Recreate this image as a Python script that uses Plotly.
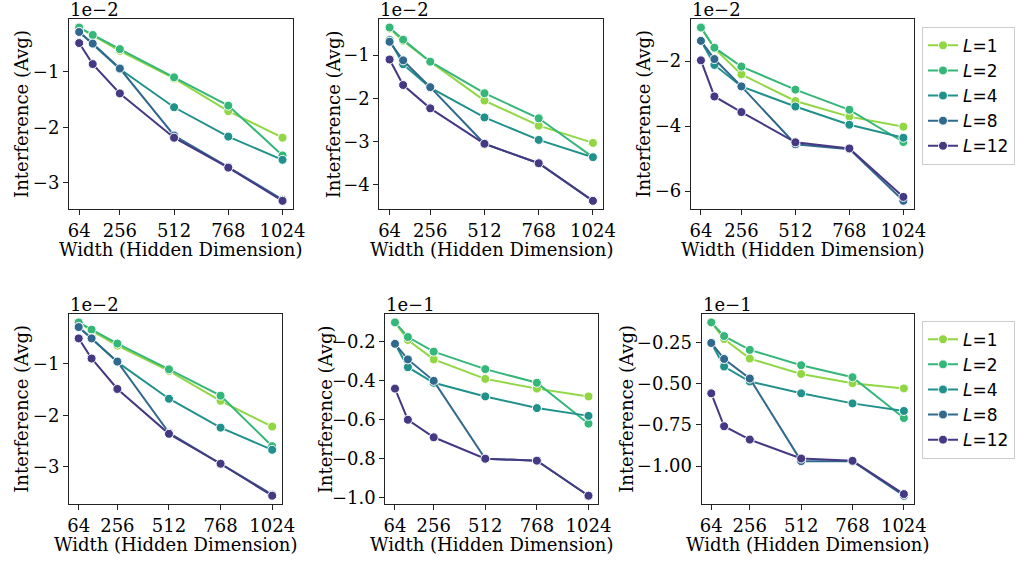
import plotly.graph_objects as go

W, H = 1028, 561

widths = [64, 128, 256, 512, 768, 1024]
layers = ["1", "2", "4", "8", "12"]
colors = ["#90d743", "#35b779", "#21918c", "#31688e", "#443983"]

x_tickvals = [64, 256, 512, 768, 1024]
x_ticktext = ["64", "256", "512", "768", "1024"]

# Values as displayed (in units of the panel's offset factor)
p1 = {
    "1": [-0.20, -0.34, -0.62, -1.12, -1.71, -2.19],
    "2": [-0.20, -0.335, -0.59, -1.10, -1.61, -2.51],
    "4": [-0.28, -0.50, -0.95, -1.64, -2.17, -2.59],
    "8": [-0.28, -0.49, -0.94, -2.15, -2.72, -3.31],
    "12": [-0.48, -0.86, -1.39, -2.19, -2.73, -3.33],
}
p2 = {
    "1": [-0.385, -0.67, -1.15, -2.05, -2.63, -3.03],
    "2": [-0.36, -0.64, -1.15, -1.88, -2.46, -3.36],
    "4": [-0.65, -1.21, -1.75, -2.44, -2.96, -3.36],
    "8": [-0.69, -1.12, -1.74, -3.05, -3.50, -4.37],
    "12": [-1.10, -1.69, -2.23, -3.05, -3.50, -4.37],
}
p3 = {
    "1": [-0.97, -1.61, -2.41, -3.23, -3.71, -4.02],
    "2": [-0.97, -1.59, -2.17, -2.88, -3.50, -4.49],
    "4": [-1.38, -2.12, -2.78, -3.40, -3.96, -4.36],
    "8": [-1.38, -1.94, -2.78, -4.56, -4.71, -6.30],
    "12": [-1.98, -3.09, -3.57, -4.50, -4.69, -6.18],
}
p4 = {
    "1": [-0.20, -0.36, -0.65, -1.14, -1.72, -2.22],
    "2": [-0.20, -0.34, -0.61, -1.11, -1.62, -2.60],
    "4": [-0.29, -0.51, -0.97, -1.68, -2.24, -2.67],
    "8": [-0.29, -0.51, -0.96, -2.34, -2.94, -3.54],
    "12": [-0.51, -0.90, -1.49, -2.36, -2.94, -3.56],
}
p5 = {
    "1": [-0.10, -0.19, -0.29, -0.39, -0.44, -0.48],
    "2": [-0.10, -0.175, -0.25, -0.34, -0.41, -0.62],
    "4": [-0.21, -0.33, -0.41, -0.48, -0.54, -0.58],
    "8": [-0.21, -0.29, -0.40, -0.80, -0.81, -0.99],
    "12": [-0.44, -0.60, -0.69, -0.80, -0.81, -0.99],
}
p6 = {
    "1": [-0.127, -0.228, -0.347, -0.44, -0.496, -0.528],
    "2": [-0.127, -0.21, -0.294, -0.387, -0.46, -0.708],
    "4": [-0.252, -0.395, -0.486, -0.558, -0.619, -0.665],
    "8": [-0.252, -0.349, -0.468, -0.97, -0.97, -1.18],
    "12": [-0.558, -0.758, -0.839, -0.954, -0.968, -1.17],
}

y_ticks = [
    ([-1, -2, -3], ["−1", "−2", "−3"]),
    ([-1, -2, -3, -4], ["−1", "−2", "−3", "−4"]),
    ([-2, -4, -6], ["−2", "−4", "−6"]),
    ([-1, -2, -3], ["−1", "−2", "−3"]),
    ([-0.2, -0.4, -0.6, -0.8, -1.0], ["−0.2", "−0.4", "−0.6", "−0.8", "−1.0"]),
    ([-0.25, -0.5, -0.75, -1.0], ["−0.25", "−0.50", "−0.75", "−1.00"]),
]
offsets = ["1e−2", "1e−2", "1e−2", "1e−2", "1e−1", "1e−1"]
panels = [p1, p2, p3, p4, p5, p6]

# Pixel boxes of axes (left, right, top, bottom)
boxes = [
    (68, 295, 19, 211),
    (383, 610, 19, 211),
    (699, 925, 19, 211),
    (68, 284, 316, 508),
    (389, 605, 316, 508),
    (710, 925, 316, 508),
]
ytitle_x = [19, 336, 651, 19, 328, 633]

SERIF = "DejaVu Serif"
FS = 18
fig = go.Figure()
layout = dict(
    width=W, height=H, margin=dict(l=0, r=0, t=0, b=0),
    paper_bgcolor="white", plot_bgcolor="white",
    font=dict(family=SERIF, size=FS, color="black"),
    annotations=[],
)

for i, (pdata, box) in enumerate(zip(panels, boxes)):
    n = i + 1
    xa = "x" if n == 1 else f"x{n}"
    ya = "y" if n == 1 else f"y{n}"
    legend_name = "legend" if i < 3 else "legend2"
    show = i in (2, 5)
    allv = [v for k in layers for v in pdata[k]]
    vmin, vmax = min(allv), max(allv)
    pad = 0.05 * (vmax - vmin)
    for L, c in zip(layers, colors):
        fig.add_trace(go.Scatter(
            x=widths, y=pdata[L], mode="lines+markers",
            xaxis=xa, yaxis=ya,
            line=dict(color=c, width=2),
            marker=dict(color=c, size=9, line=dict(color="white", width=1)),
            name=f"<i>L</i>={L}", showlegend=show, legend=legend_name,
        ))
    l, r, t, b = box
    xkey = "xaxis" if n == 1 else f"xaxis{n}"
    ykey = "yaxis" if n == 1 else f"yaxis{n}"
    axcommon = dict(showgrid=False, zeroline=False, showline=True, mirror=True,
                    linecolor="#222", linewidth=1, ticks="outside", ticklen=5,
                    tickcolor="#222", tickfont=dict(family=SERIF, size=FS))
    layout[xkey] = dict(domain=[l / W, r / W], anchor=ya, range=[16, 1072],
                        tickmode="array", tickvals=x_tickvals, ticktext=x_ticktext,
                        **axcommon)
    tv, tt = y_ticks[i]
    layout[ykey] = dict(domain=[1 - b / H, 1 - t / H], anchor=xa,
                        range=[vmin - pad, vmax + pad],
                        tickmode="array", tickvals=tv, ticktext=tt, **axcommon)
    # x title
    layout["annotations"].append(dict(
        text="Width (Hidden Dimension)", xref="paper", yref="paper",
        x=(l + r) / 2 / W, y=1 - (b + 40) / H, xanchor="center", yanchor="middle",
        showarrow=False, font=dict(family=SERIF, size=FS)))
    # y title
    layout["annotations"].append(dict(
        text="Interference (Avg)", xref="paper", yref="paper",
        x=ytitle_x[i] / W, y=1 - (t + b) / 2 / H, xanchor="center", yanchor="middle",
        textangle=-90, showarrow=False, font=dict(family=SERIF, size=FS)))
    # offset text
    layout["annotations"].append(dict(
        text=offsets[i], xref="paper", yref="paper",
        x=(l - 1) / W, y=1 - (t - 9) / H, xanchor="left", yanchor="middle",
        showarrow=False, font=dict(family=SERIF, size=FS)))

legcommon = dict(xanchor="right", yanchor="top", bordercolor="#cccccc", borderwidth=1,
                 bgcolor="white", font=dict(family="DejaVu Sans", size=17),
                 itemwidth=30, tracegroupgap=0)
layout["legend"] = dict(x=1.0, y=1 - 27 / H, **legcommon)
layout["legend2"] = dict(x=1.0, y=1 - 323 / H, **legcommon)

fig.update_layout(**layout)
fig.write_html("out.html")
